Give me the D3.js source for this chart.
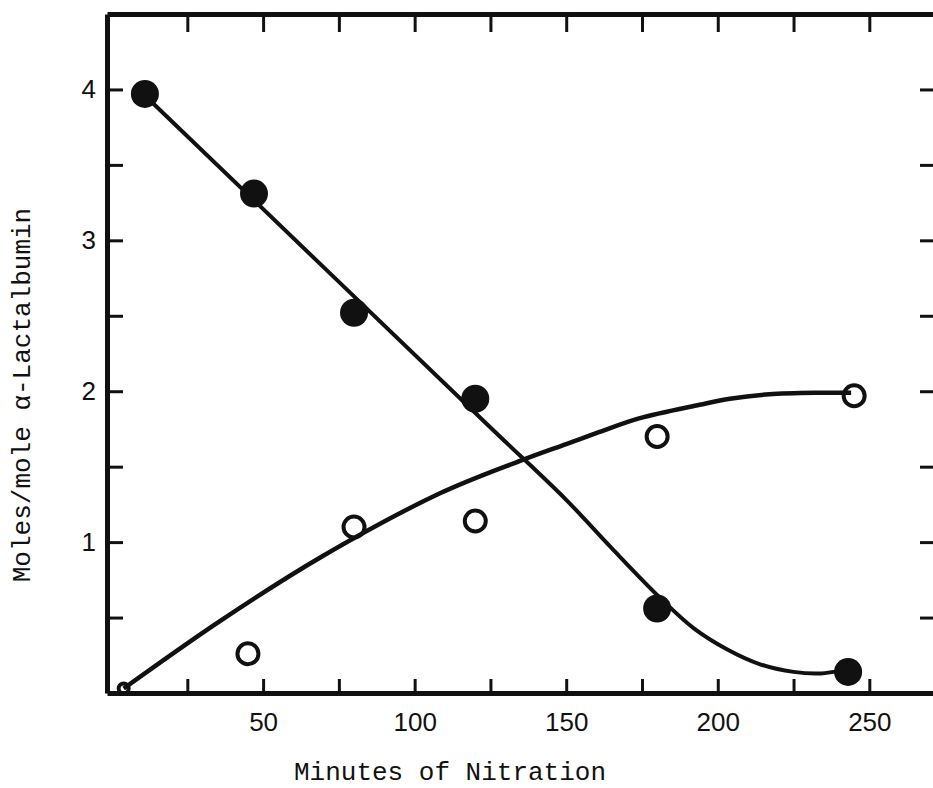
<!DOCTYPE html>
<html>
<head>
<meta charset="utf-8">
<script src="https://cdn.jsdelivr.net/npm/d3@7"></script>
<style>
  body { margin: 0; background: #fff; }
  svg { display: block; }
  .tick text { font-family: "Liberation Sans", Arial, sans-serif; font-size: 26px; fill: #111; }
  .axis-title { font-family: "Liberation Mono", "DejaVu Sans Mono", monospace; font-size: 26px; fill: #111; }
</style>
</head>
<body>
<div id="chart"></div>
<script>
// minutes of nitration, measured points
var nitroTime  = [11, 47, 80, 120, 180, 243];
var nitroMoles = [3.97, 3.31, 2.52, 1.95, 0.56, 0.14];

var tyrTime  = [4, 45, 80, 120, 180, 245];
var tyrMoles = [0.03, 0.26, 1.10, 1.14, 1.70, 1.97];

// hand-drawn fitted curves
var nitroCurveX = [11, 125, 150, 165, 181, 192, 203, 214, 225, 234, 241];
var nitroCurveY = [3.96, 1.76, 1.28, 0.96, 0.63, 0.43, 0.29, 0.19, 0.14, 0.13, 0.15];

var tyrCurveX = [4, 36, 69, 108, 135, 150, 161, 174, 194, 204, 217, 234, 244];
var tyrCurveY = [0.03, 0.48, 0.90, 1.32, 1.54, 1.65, 1.73, 1.82, 1.91, 1.95, 1.98, 1.99, 1.99];

var xTicks = [25, 50, 75, 100, 125, 150, 175, 200, 225, 250];
var xLabels = [50, 100, 150, 200, 250];
var yTicks = [0.5, 1, 1.5, 2, 2.5, 3, 3.5, 4];
var yLabels = [1, 2, 3, 4];

var width = 933, height = 788;

var svg = d3.select('#chart').append('svg')
    .attr('width', width)
    .attr('height', height);

svg.append('rect').attr('width', width).attr('height', height).attr('fill', '#fff');

var x = d3.scaleLinear().domain([-1.5, 272]).range([107, 936]);
var y = d3.scaleLinear().domain([0, 4.5]).range([693, 14]);

var ink = '#111';

// axes, ticks pointing inward on all four sides
var axB = svg.append('g').attr('transform', 'translate(0,' + y(0) + ')')
    .call(d3.axisBottom(x).tickValues(xTicks).tickSize(-14).tickSizeOuter(0).tickPadding(0)
        .tickFormat(function(d) { return xLabels.indexOf(d) >= 0 ? d : ''; }));
axB.selectAll('.tick text').attr('y', 38).attr('dy', 0);

var axT = svg.append('g').attr('transform', 'translate(0,' + y(4.5) + ')')
    .call(d3.axisTop(x).tickValues(xTicks).tickSize(-18).tickSizeOuter(0).tickFormat(''));

var axL = svg.append('g').attr('transform', 'translate(' + x(-1.5) + ',0)')
    .call(d3.axisLeft(y).tickValues(yTicks).tickSize(-16).tickSizeOuter(0).tickPadding(11)
        .tickFormat(function(d) { return yLabels.indexOf(d) >= 0 ? d : ''; }));

var axR = svg.append('g').attr('transform', 'translate(' + x(272) + ',0)')
    .call(d3.axisRight(y).tickValues(yTicks).tickSize(-16).tickSizeOuter(0).tickFormat(''));

[axB, axT, axL, axR].forEach(function(a) {
  a.select('.domain').attr('stroke', ink).attr('stroke-width', 5);
  a.selectAll('.tick line').attr('stroke', ink).attr('stroke-width', 3);
});

// fitted curves
var line = d3.line()
    .x(function(d) { return x(d[0]); })
    .y(function(d) { return y(d[1]); })
    .curve(d3.curveCatmullRom.alpha(0.5));

svg.append('path')
    .datum(d3.zip(nitroCurveX, nitroCurveY))
    .attr('d', line)
    .attr('fill', 'none').attr('stroke', ink).attr('stroke-width', 4);

svg.append('path')
    .datum(d3.zip(tyrCurveX, tyrCurveY))
    .attr('d', line)
    .attr('fill', 'none').attr('stroke', ink).attr('stroke-width', 4.5);

// points
svg.append('g').selectAll('circle')
    .data(d3.zip(nitroTime, nitroMoles))
    .enter().append('circle')
    .attr('cx', function(d) { return x(d[0]); })
    .attr('cy', function(d) { return y(d[1]); })
    .attr('r', 14)
    .attr('fill', ink);

svg.append('g').selectAll('circle')
    .data(d3.zip(tyrTime, tyrMoles))
    .enter().append('circle')
    .attr('cx', function(d) { return x(d[0]); })
    .attr('cy', function(d) { return y(d[1]); })
    .attr('r', function(d, i) { return i === 0 ? 5 : 10.5; })
    .attr('fill', 'none')
    .attr('stroke', ink)
    .attr('stroke-width', 4);

// titles
svg.append('text')
    .attr('class', 'axis-title')
    .attr('x', 450).attr('y', 780)
    .attr('text-anchor', 'middle')
    .text('Minutes of Nitration');

svg.append('text')
    .attr('class', 'axis-title')
    .attr('transform', 'translate(30,395) rotate(-90)')
    .attr('text-anchor', 'middle')
    .text('Moles/mole \u03b1-Lactalbumin');
</script>
</body>
</html>
